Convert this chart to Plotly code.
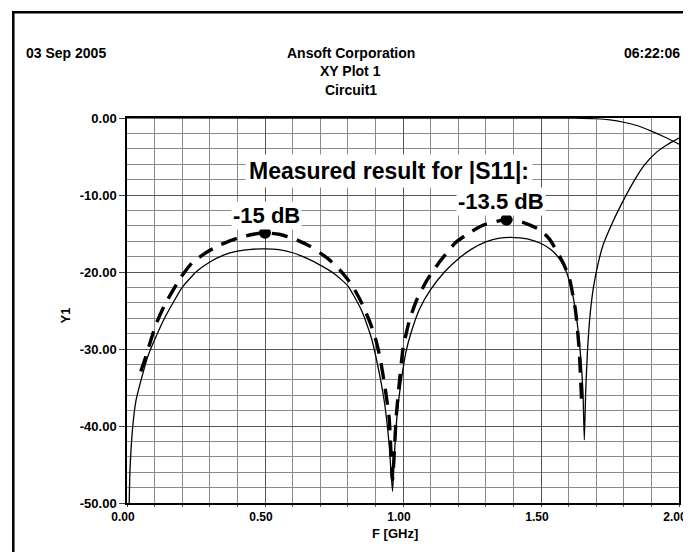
import plotly.graph_objects as go

# ---- data ----
f_sim = [0.008, 0.011, 0.021, 0.032, 0.055, 0.075, 0.1, 0.136, 0.17, 0.2, 0.25, 0.3, 0.35,
         0.4, 0.45, 0.5, 0.55, 0.6, 0.65, 0.7, 0.75, 0.8, 0.85, 0.885, 0.916, 0.935,
         0.95, 0.962, 0.97, 0.98, 0.995, 1.01, 1.03, 1.06, 1.10, 1.15, 1.2, 1.25, 1.3,
         1.35, 1.39, 1.45, 1.5, 1.54, 1.567, 1.59, 1.61, 1.625, 1.642, 1.652, 1.657,
         1.662, 1.668, 1.678, 1.69, 1.705, 1.725, 1.76, 1.80, 1.84, 1.875, 1.92, 1.96, 2.0]
s11_sim = [-50.0, -45.5, -40.0, -36.8, -33.5, -31.0, -28.8, -26.0, -23.8, -22.0, -20.0, -18.7,
           -17.8, -17.3, -17.05, -17.0, -17.1, -17.5, -18.2, -19.1, -20.2, -21.8, -25.0, -28.5,
           -33.5, -37.5, -42.5, -48.5, -43.0, -38.0, -33.8, -30.5, -27.8, -24.8, -22.3, -20.0,
           -18.3, -17.0, -16.1, -15.6, -15.5, -15.7, -16.3, -17.2, -18.3, -19.8, -22.2, -25.0,
           -30.3, -35.5, -41.8, -35.5, -30.5, -25.5, -22.0, -19.2, -16.5, -13.5, -10.6, -8.0,
           -6.1, -4.4, -3.4, -2.6]

f_meas = [0.05, 0.068, 0.104, 0.136, 0.193, 0.236, 0.29, 0.336, 0.4, 0.458, 0.5, 0.55, 0.6,
          0.66, 0.726, 0.77, 0.815, 0.85, 0.88, 0.9, 0.916, 0.935, 0.95, 0.962, 0.975,
          0.985, 1.0, 1.023, 1.05, 1.088, 1.13, 1.19, 1.245, 1.292, 1.33, 1.375, 1.43,
          1.495, 1.53, 1.553, 1.58, 1.603, 1.625, 1.638, 1.648]
s11_meas = [-32.9, -31.0, -26.9, -24.3, -20.8, -18.8, -17.4, -16.5, -15.6, -15.1, -14.9, -15.1,
            -15.6, -16.6, -18.2, -19.7, -21.7, -24.0, -26.5, -28.6, -31.0, -35.0, -39.0, -47.0,
            -39.0, -35.0, -30.0, -26.3, -23.6, -21.0, -18.8, -16.2, -14.8, -13.9, -13.5, -13.2,
            -13.5, -14.5, -15.7, -17.0, -18.8, -20.8, -25.0, -29.9, -37.5]

f_s21 = [0.0, 1.6, 1.65, 1.7, 1.75, 1.8, 1.85, 1.9, 1.95, 2.0]
s21 = [0.0, -0.02, -0.05, -0.1, -0.25, -0.55, -1.0, -1.7, -2.5, -3.4]

peak_f = [0.5, 1.375]
peak_db = [-14.9, -13.2]
peak_labels = ["-15 dB", "-13.5 dB"]

x_ticks = [0.0, 0.5, 1.0, 1.5, 2.0]
x_ticktext = ["0.00", "0.50", "1.00", "1.50", "2.00"]
y_ticks = [0, -10, -20, -30, -40, -50]
y_ticktext = ["0.00", "-10.00", "-20.00", "-30.00", "-40.00", "-50.00"]

FONT = "Liberation Sans, Arial, sans-serif"

fig = go.Figure()
fig.add_trace(go.Scatter(x=f_s21, y=s21, mode="lines",
                         line=dict(color="black", width=1.2, shape="spline", smoothing=0.5),
                         hoverinfo="skip"))
fig.add_trace(go.Scatter(x=f_sim, y=s11_sim, mode="lines",
                         line=dict(color="black", width=1.3, shape="spline", smoothing=0.5),
                         hoverinfo="skip"))
fig.add_trace(go.Scatter(x=f_meas, y=s11_meas, mode="lines",
                         line=dict(color="black", width=3.4, dash="16px,10px",
                                   shape="spline", smoothing=0.5),
                         hoverinfo="skip"))
fig.add_trace(go.Scatter(x=peak_f, y=peak_db, mode="markers",
                         marker=dict(color="black", size=12), hoverinfo="skip"))

annotations = []
label_pos = [(0.504, -12.6), (1.356, -10.9)]
for (lx, ly), txt in zip(label_pos, peak_labels):
    annotations.append(dict(x=lx, y=ly, xref="x", yref="y", text=txt, showarrow=False,
                            font=dict(family=FONT, size=22, color="black", weight="bold"),
                            bgcolor="white", borderpad=1))
annotations.append(dict(x=0.948, y=-6.9, xref="x", yref="y",
                        text="Measured result for |S11|:", showarrow=False,
                        font=dict(family=FONT, size=23, color="black", weight="bold"),
                        bgcolor="white", borderpad=3))
hdr = dict(family=FONT, size=14, color="black", weight="bold")
annotations += [
    dict(x=-0.186, y=1.195, xref="paper", yref="paper", text="03 Sep 2005",
         showarrow=False, xanchor="left", font=hdr),
    dict(x=0.405, y=1.195, xref="paper", yref="paper", text="Ansoft Corporation",
         showarrow=False, font=hdr),
    dict(x=0.405, y=1.148, xref="paper", yref="paper", text="XY Plot 1",
         showarrow=False, font=hdr),
    dict(x=0.405, y=1.099, xref="paper", yref="paper", text="Circuit1",
         showarrow=False, font=hdr),
    dict(x=1.0054, y=1.195, xref="paper", yref="paper", text="06:22:06",
         showarrow=False, xanchor="right", font=hdr),
    dict(x=-0.129, y=0.488, xref="paper", yref="paper", text="Y1", textangle=-90,
         showarrow=False, font=dict(family=FONT, size=13, color="black", weight="bold")),
    dict(x=0.485, y=-0.103, xref="paper", yref="paper", text="F [GHz]",
         showarrow=False, font=dict(family=FONT, size=13, color="black", weight="bold")),
]

fig.update_layout(
    width=691, height=552,
    margin=dict(l=119, r=13, t=110, b=57),
    paper_bgcolor="white", plot_bgcolor="white",
    showlegend=False,
    annotations=annotations,
    shapes=[dict(type="rect", xref="paper", yref="paper",
                 x0=-0.206, x1=1.0145, y0=-0.138, y1=1.275,
                 line=dict(color="black", width=2.5), layer="below")],
)
fig.update_xaxes(range=[0, 2], tickmode="array", tickvals=x_ticks, ticktext=x_ticktext,
                 showline=True, mirror=True, linecolor="black", linewidth=1.5,
                 showgrid=True, gridcolor="#555555", gridwidth=1,
                 ticks="outside", ticklen=2, tickcolor="#444444", ticklabelshift=-4,
                 tickfont=dict(family=FONT, size=12, color="black", weight="bold"),
                 minor=dict(tickmode="linear", tick0=0, dtick=0.1, showgrid=True,
                            gridcolor="#8a8a8a", gridwidth=1, ticks="outside", ticklen=2,
                            tickcolor="#666666"),
                 zeroline=False, fixedrange=True)
fig.update_yaxes(range=[-50, 0], tickmode="array", tickvals=y_ticks, ticktext=y_ticktext,
                 showline=True, mirror=True, linecolor="black", linewidth=1.5,
                 showgrid=True, gridcolor="#555555", gridwidth=1,
                 ticks="outside", ticklen=6, tickcolor="#444444",
                 tickfont=dict(family=FONT, size=13, color="black", weight="bold"),
                 minor=dict(tickmode="linear", tick0=0, dtick=2, showgrid=True,
                            gridcolor="#8a8a8a", gridwidth=1),
                 zeroline=False, fixedrange=True)

fig.write_html("out.html")
